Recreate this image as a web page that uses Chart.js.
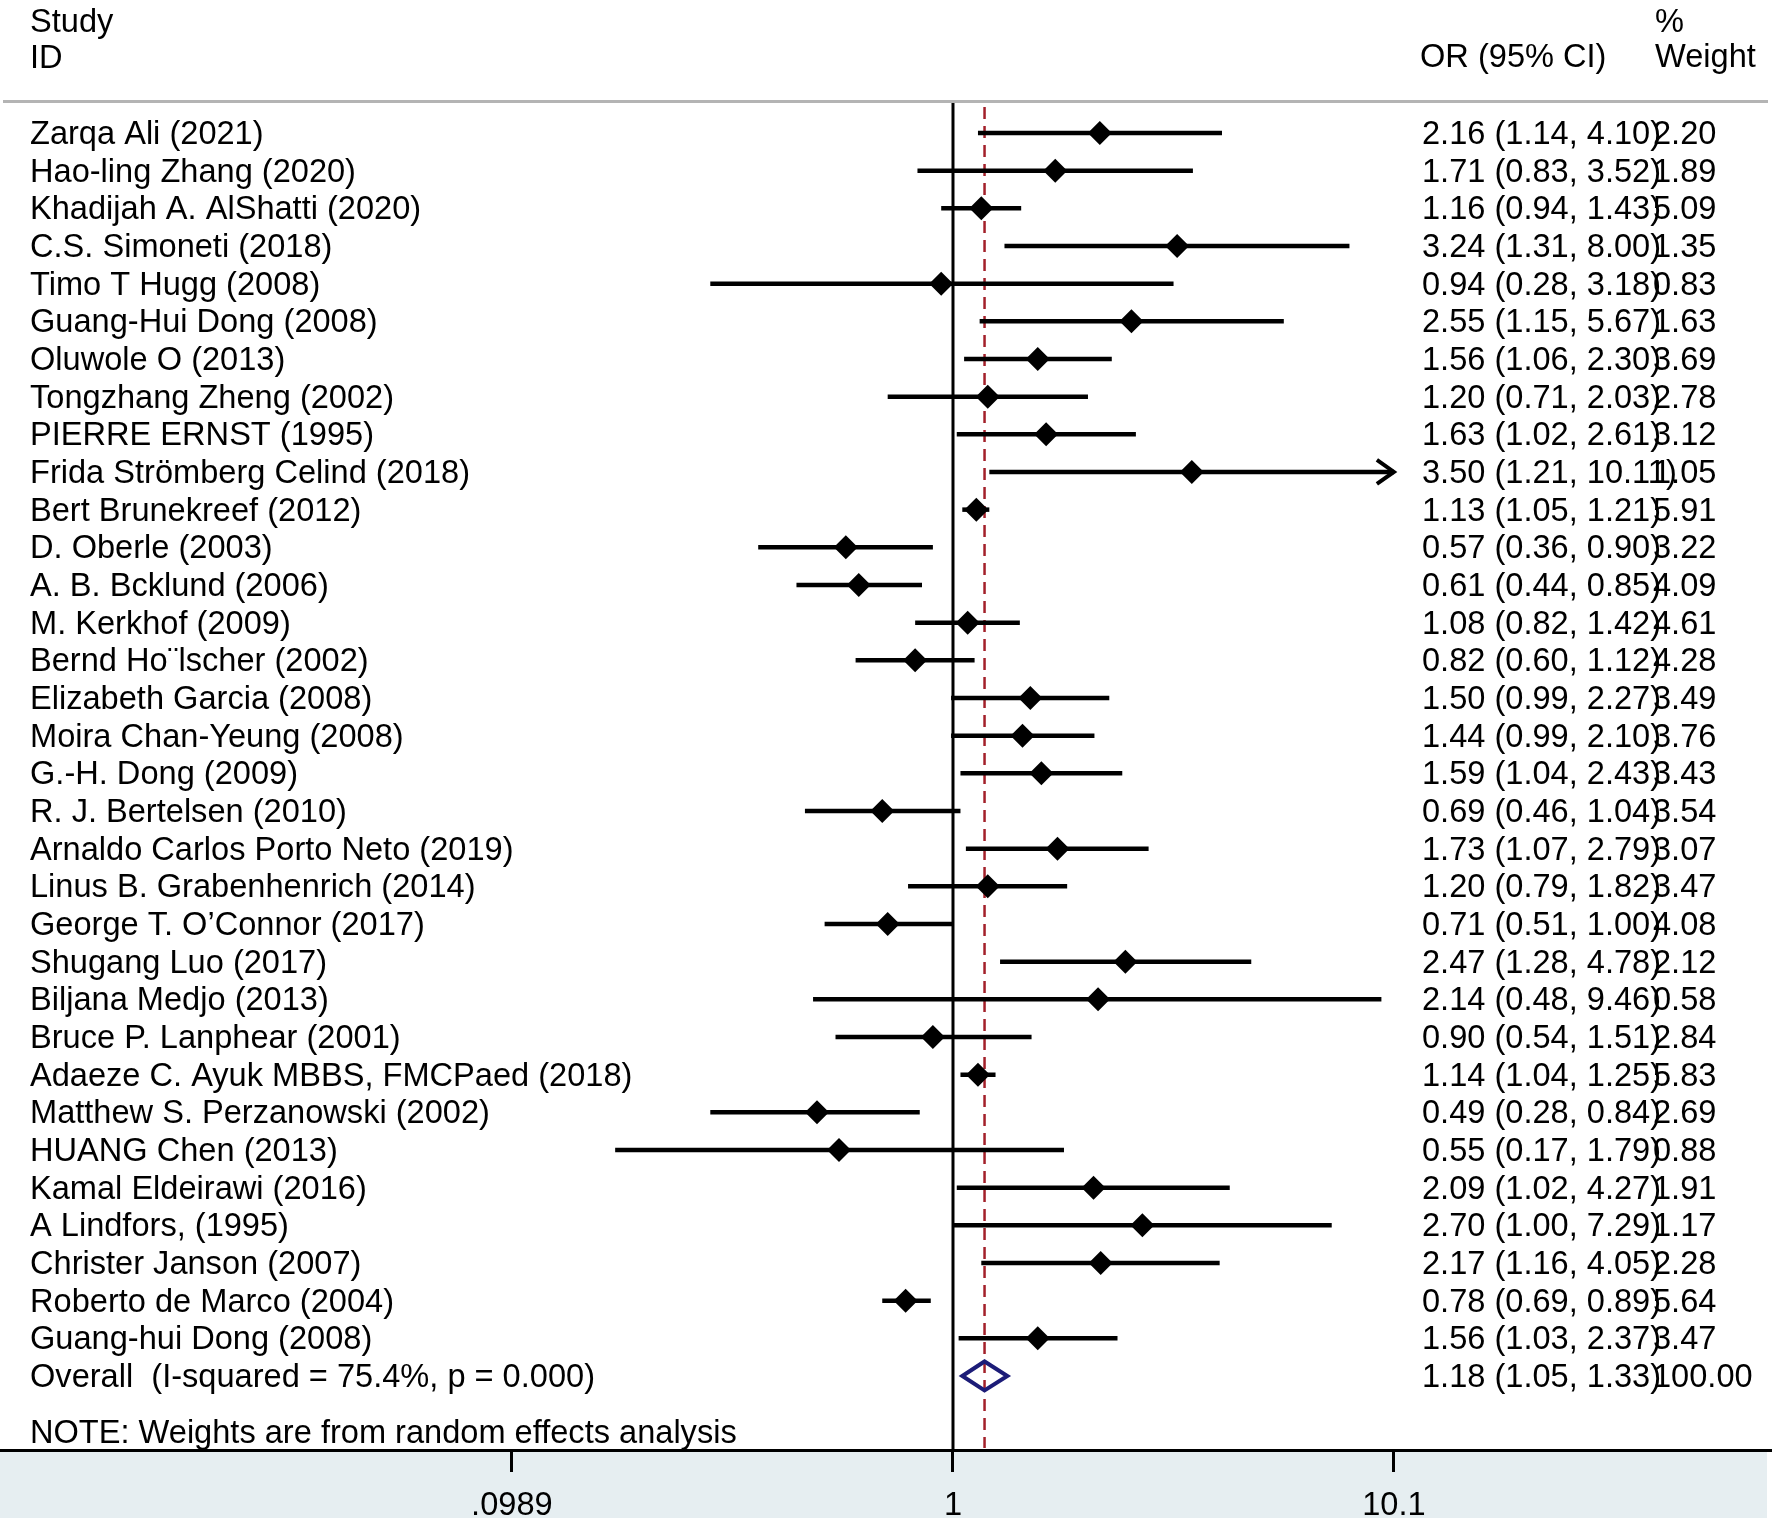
<!DOCTYPE html>
<html><head><meta charset="utf-8">
<script src="https://cdn.jsdelivr.net/npm/chart.js@4.4.1/dist/chart.umd.min.js"></script>
<style>html,body{margin:0;padding:0;background:#fff;}canvas{display:block;}</style>
</head><body>
<div style="width:1772px;height:1518px;position:relative;"><canvas id="c" width="1772" height="1518" style="width:1772px;height:1518px;"></canvas></div>
<script>
const studies = [
  "Zarqa Ali (2021)", "Hao-ling Zhang (2020)", "Khadijah A. AlShatti (2020)", "C.S. Simoneti (2018)",
  "Timo T Hugg (2008)", "Guang-Hui Dong (2008)", "Oluwole O (2013)", "Tongzhang Zheng (2002)",
  "PIERRE ERNST (1995)", "Frida Strömberg Celind (2018)", "Bert Brunekreef (2012)", "D. Oberle (2003)",
  "A. B. Bcklund (2006)", "M. Kerkhof (2009)", "Bernd Ho\u00A8lscher (2002)", "Elizabeth Garcia (2008)",
  "Moira Chan-Yeung (2008)", "G.-H. Dong (2009)", "R. J. Bertelsen (2010)", "Arnaldo Carlos Porto Neto (2019)",
  "Linus B. Grabenhenrich (2014)", "George T. O\u2019Connor (2017)", "Shugang Luo (2017)", "Biljana Medjo (2013)",
  "Bruce P. Lanphear (2001)", "Adaeze C. Ayuk MBBS, FMCPaed (2018)", "Matthew S. Perzanowski (2002)", "HUANG Chen (2013)",
  "Kamal Eldeirawi (2016)", "A Lindfors, (1995)", "Christer Janson (2007)", "Roberto de Marco (2004)",
  "Guang-hui Dong (2008)"
];
const orValues = [2.16, 1.71, 1.16, 3.24, 0.94, 2.55, 1.56, 1.20, 1.63, 3.50, 1.13, 0.57, 0.61, 1.08, 0.82, 1.50, 1.44, 1.59, 0.69, 1.73, 1.20, 0.71, 2.47, 2.14, 0.90, 1.14, 0.49, 0.55, 2.09, 2.70, 2.17, 0.78, 1.56];
const lowerCI  = [1.14, 0.83, 0.94, 1.31, 0.28, 1.15, 1.06, 0.71, 1.02, 1.21, 1.05, 0.36, 0.44, 0.82, 0.60, 0.99, 0.99, 1.04, 0.46, 1.07, 0.79, 0.51, 1.28, 0.48, 0.54, 1.04, 0.28, 0.17, 1.02, 1.00, 1.16, 0.69, 1.03];
const upperCI  = [4.10, 3.52, 1.43, 8.00, 3.18, 5.67, 2.30, 2.03, 2.61, 10.11, 1.21, 0.90, 0.85, 1.42, 1.12, 2.27, 2.10, 2.43, 1.04, 2.79, 1.82, 1.00, 4.78, 9.46, 1.51, 1.25, 0.84, 1.79, 4.27, 7.29, 4.05, 0.89, 2.37];
const weights  = [2.20, 1.89, 5.09, 1.35, 0.83, 1.63, 3.69, 2.78, 3.12, 1.05, 5.91, 3.22, 4.09, 4.61, 4.28, 3.49, 3.76, 3.43, 3.54, 3.07, 3.47, 4.08, 2.12, 0.58, 2.84, 5.83, 2.69, 0.88, 1.91, 1.17, 2.28, 5.64, 3.47];
const overallLabel = "Overall  (I-squared = 75.4%, p = 0.000)";
const overallEstimate = [1.18, 1.05, 1.33];
const overallWeight = 100.00;
const xTickValues = [0.0989, 1, 10.1];
const xTickLabels = [".0989", "1", "10.1"];
const noteText = "NOTE: Weights are from random effects analysis";

const FONT = "'Liberation Sans', Arial, Helvetica, sans-serif";
const FSIZE = 32.6;
const TY = 2; // small vertical offset of text relative to marks
const nRows = studies.length + 1;
const axisMax = xTickValues[xTickValues.length - 1];
const fmt = v => v.toFixed(2);

const ciDatasets = studies.map((s, i) => ({
  type: 'scatter',
  data: [{x: lowerCI[i], y: i}, {x: Math.min(upperCI[i], axisMax), y: i}],
  showLine: true, borderColor: '#000', borderWidth: 4.5, pointRadius: 0,
  borderCapStyle: 'butt', clip: false
}));
const pointDataset = {
  type: 'scatter',
  data: studies.map((s, i) => ({x: orValues[i], y: i})),
  pointStyle: 'rectRot', pointRadius: 12, backgroundColor: '#000', borderColor: '#000', borderWidth: 0, clip: false
};

const forestPlugin = {
  id: 'forest',
  beforeDraw(chart) {
    const ctx = chart.ctx, a = chart.chartArea;
    ctx.save();
    ctx.fillStyle = '#fff';
    ctx.fillRect(0, 0, chart.width, chart.height);
    ctx.fillStyle = '#e6eef1';
    ctx.fillRect(0, a.bottom, chart.width - 5, chart.height - a.bottom);
    ctx.restore();
  },
  beforeDatasetsDraw(chart) {
    const ctx = chart.ctx, a = chart.chartArea, xs = chart.scales.x;
    ctx.save();
    ctx.strokeStyle = '#b4b4b4'; ctx.lineWidth = 3;
    ctx.beginPath(); ctx.moveTo(3, 101.5); ctx.lineTo(1768, 101.5); ctx.stroke();
    const x1 = xs.getPixelForValue(1);
    ctx.strokeStyle = '#000'; ctx.lineWidth = 3;
    ctx.beginPath(); ctx.moveTo(x1, 103); ctx.lineTo(x1, a.bottom); ctx.stroke();
    const xo = xs.getPixelForValue(overallEstimate[0]);
    ctx.strokeStyle = '#a3202a'; ctx.lineWidth = 2.5; ctx.setLineDash([12, 7]);
    ctx.beginPath(); ctx.moveTo(xo, 107); ctx.lineTo(xo, a.bottom - 2); ctx.stroke();
    ctx.restore();
  },
  afterDraw(chart) {
    const ctx = chart.ctx, xs = chart.scales.x, ys = chart.scales.y;
    ctx.save();
    ctx.fillStyle = '#000';
    ctx.font = FSIZE + 'px ' + FONT;
    ctx.textBaseline = 'middle';
    ctx.textAlign = 'left';
    ctx.fillText('Study', 30, 21 + TY);
    ctx.fillText('ID', 30, 57 + TY);
    ctx.fillText('OR (95% CI)', 1420, 56 + TY);
    ctx.fillText('%', 1655, 21 + TY);
    ctx.fillText('Weight', 1655, 56 + TY);
    studies.forEach((s, i) => {
      const y = ys.getPixelForValue(i);
      ctx.fillText(s, 30, y + TY);
      ctx.fillText(fmt(orValues[i]) + ' (' + fmt(lowerCI[i]) + ', ' + fmt(upperCI[i]) + ')', 1422, y + TY);
      ctx.fillText(fmt(weights[i]), 1653, y + TY);
      if (upperCI[i] > axisMax) {
        const xe = xs.getPixelForValue(axisMax);
        ctx.save();
        ctx.strokeStyle = '#000'; ctx.lineWidth = 4; ctx.lineJoin = 'miter';
        ctx.beginPath();
        ctx.moveTo(xe - 17, y - 12); ctx.lineTo(xe, y); ctx.lineTo(xe - 17, y + 12);
        ctx.stroke();
        ctx.restore();
      }
    });
    const yo = ys.getPixelForValue(nRows - 1);
    ctx.fillText(overallLabel, 30, yo + TY);
    ctx.fillText(fmt(overallEstimate[0]) + ' (' + fmt(overallEstimate[1]) + ', ' + fmt(overallEstimate[2]) + ')', 1422, yo + TY);
    ctx.fillText(fmt(overallWeight), 1653, yo + TY);
    ctx.fillText(noteText, 30, 1432 + TY);
    const xc = xs.getPixelForValue(overallEstimate[0]);
    const xl = xs.getPixelForValue(overallEstimate[1]);
    const xr = xs.getPixelForValue(overallEstimate[2]);
    ctx.strokeStyle = '#1c1c78'; ctx.lineWidth = 4; ctx.lineJoin = 'miter';
    ctx.beginPath();
    ctx.moveTo(xl, yo); ctx.lineTo(xc, yo - 14.5); ctx.lineTo(xr, yo); ctx.lineTo(xc, yo + 14.5); ctx.closePath();
    ctx.stroke();
    ctx.restore();
  }
};

new Chart(document.getElementById('c'), {
  type: 'scatter',
  data: { datasets: [...ciDatasets, pointDataset] },
  options: {
    responsive: false, animation: false, devicePixelRatio: 1,
    layout: { padding: 0, autoPadding: false },
    plugins: { legend: { display: false }, tooltip: { enabled: false }, title: { display: false } },
    scales: {
      x: {
        type: 'logarithmic', min: 0.006748, max: 73.39, bounds: 'data',
        afterBuildTicks: s => { s.ticks = xTickValues.map(v => ({ value: v })); },
        afterFit: s => { s.height = 68; },
        ticks: { callback: (v, i) => xTickLabels[i], font: { family: FONT, size: FSIZE }, color: '#000', padding: 14, maxRotation: 0, autoSkip: false },
        grid: { drawOnChartArea: false, drawTicks: true, tickLength: 22, tickWidth: 3, tickColor: '#000' },
        border: { display: true, color: '#000', width: 3 }
      },
      y: {
        type: 'linear', reverse: true, min: -3.53, max: 34.965, display: false
      }
    }
  },
  plugins: [forestPlugin]
});
</script>
</body></html>
